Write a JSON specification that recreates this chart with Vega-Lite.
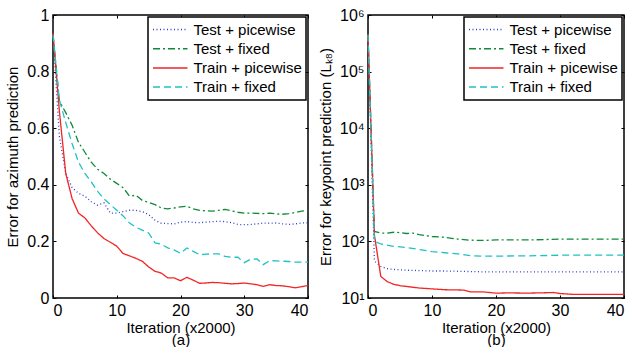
{
  "$schema": "https://vega.github.io/schema/vega-lite/v6.json",
  "padding": {"left": 5, "top": 6, "right": 5, "bottom": 0},
  "background": "white",
  "config": {
    "font": "Liberation Sans",
    "view": {"stroke": "black", "strokeWidth": 1.5},
    "axis": {"domain": false, "grid": false, "tickColor": "black", "tickSize": -3, "tickWidth": 1, "labelPadding": 7, "labelFontSize": 16, "labelColor": "black", "titleFontSize": 15, "titleFontWeight": "normal", "titleColor": "black", "labelFont": "Liberation Sans", "titleFont": "Liberation Sans"},
    "axisY": {"titlePadding": 6},
    "legend": {"orient": "top-right", "offset": 2, "strokeColor": "black", "strokeWidth": 1.5, "fillColor": "white", "padding": 4, "symbolType": "M-1,0H3.6", "symbolSize": 225, "symbolStrokeWidth": 1.5, "labelFontSize": 15, "labelColor": "black", "labelFont": "Liberation Sans", "rowPadding": 2.2, "labelOffset": 24.5, "labelLimit": 300}
  },
  "datasets": {
    "a": [
      {"s":"Test + picewise","x":0,"y":0.93},{"s":"Test + picewise","x":1,"y":0.57},{"s":"Test + picewise","x":2,"y":0.44},{"s":"Test + picewise","x":3,"y":0.39},{"s":"Test + picewise","x":4,"y":0.37},{"s":"Test + picewise","x":5,"y":0.36},{"s":"Test + picewise","x":6,"y":0.34},{"s":"Test + picewise","x":7,"y":0.328},{"s":"Test + picewise","x":8,"y":0.336},{"s":"Test + picewise","x":9,"y":0.3},{"s":"Test + picewise","x":10,"y":0.3},{"s":"Test + picewise","x":11,"y":0.305},{"s":"Test + picewise","x":12,"y":0.31},{"s":"Test + picewise","x":13,"y":0.31},{"s":"Test + picewise","x":14,"y":0.305},{"s":"Test + picewise","x":15,"y":0.295},{"s":"Test + picewise","x":16,"y":0.275},{"s":"Test + picewise","x":17,"y":0.264},{"s":"Test + picewise","x":18,"y":0.263},{"s":"Test + picewise","x":19,"y":0.262},{"s":"Test + picewise","x":20,"y":0.268},{"s":"Test + picewise","x":21,"y":0.27},{"s":"Test + picewise","x":22,"y":0.267},{"s":"Test + picewise","x":23,"y":0.266},{"s":"Test + picewise","x":24,"y":0.268},{"s":"Test + picewise","x":25,"y":0.27},{"s":"Test + picewise","x":26,"y":0.271},{"s":"Test + picewise","x":27,"y":0.27},{"s":"Test + picewise","x":28,"y":0.266},{"s":"Test + picewise","x":29,"y":0.26},{"s":"Test + picewise","x":30,"y":0.259},{"s":"Test + picewise","x":31,"y":0.26},{"s":"Test + picewise","x":32,"y":0.262},{"s":"Test + picewise","x":33,"y":0.265},{"s":"Test + picewise","x":34,"y":0.264},{"s":"Test + picewise","x":35,"y":0.265},{"s":"Test + picewise","x":36,"y":0.262},{"s":"Test + picewise","x":37,"y":0.26},{"s":"Test + picewise","x":38,"y":0.262},{"s":"Test + picewise","x":39,"y":0.265},{"s":"Test + picewise","x":40,"y":0.266},
      {"s":"Test + fixed","x":0,"y":0.93},{"s":"Test + fixed","x":1,"y":0.696},{"s":"Test + fixed","x":2,"y":0.655},{"s":"Test + fixed","x":3,"y":0.61},{"s":"Test + fixed","x":4,"y":0.55},{"s":"Test + fixed","x":5,"y":0.515},{"s":"Test + fixed","x":6,"y":0.48},{"s":"Test + fixed","x":7,"y":0.455},{"s":"Test + fixed","x":8,"y":0.44},{"s":"Test + fixed","x":9,"y":0.42},{"s":"Test + fixed","x":10,"y":0.405},{"s":"Test + fixed","x":11,"y":0.39},{"s":"Test + fixed","x":12,"y":0.36},{"s":"Test + fixed","x":13,"y":0.363},{"s":"Test + fixed","x":14,"y":0.345},{"s":"Test + fixed","x":15,"y":0.338},{"s":"Test + fixed","x":16,"y":0.33},{"s":"Test + fixed","x":17,"y":0.318},{"s":"Test + fixed","x":18,"y":0.315},{"s":"Test + fixed","x":19,"y":0.318},{"s":"Test + fixed","x":20,"y":0.322},{"s":"Test + fixed","x":21,"y":0.324},{"s":"Test + fixed","x":22,"y":0.315},{"s":"Test + fixed","x":23,"y":0.31},{"s":"Test + fixed","x":24,"y":0.308},{"s":"Test + fixed","x":25,"y":0.307},{"s":"Test + fixed","x":26,"y":0.31},{"s":"Test + fixed","x":27,"y":0.313},{"s":"Test + fixed","x":28,"y":0.308},{"s":"Test + fixed","x":29,"y":0.303},{"s":"Test + fixed","x":30,"y":0.3},{"s":"Test + fixed","x":31,"y":0.3},{"s":"Test + fixed","x":32,"y":0.299},{"s":"Test + fixed","x":33,"y":0.298},{"s":"Test + fixed","x":34,"y":0.3},{"s":"Test + fixed","x":35,"y":0.297},{"s":"Test + fixed","x":36,"y":0.296},{"s":"Test + fixed","x":37,"y":0.298},{"s":"Test + fixed","x":38,"y":0.302},{"s":"Test + fixed","x":39,"y":0.307},{"s":"Test + fixed","x":40,"y":0.309},
      {"s":"Train + picewise","x":0,"y":0.937},{"s":"Train + picewise","x":1,"y":0.66},{"s":"Train + picewise","x":2,"y":0.44},{"s":"Train + picewise","x":3,"y":0.351},{"s":"Train + picewise","x":4,"y":0.3},{"s":"Train + picewise","x":5,"y":0.283},{"s":"Train + picewise","x":6,"y":0.255},{"s":"Train + picewise","x":7,"y":0.23},{"s":"Train + picewise","x":8,"y":0.21},{"s":"Train + picewise","x":9,"y":0.197},{"s":"Train + picewise","x":10,"y":0.183},{"s":"Train + picewise","x":11,"y":0.157},{"s":"Train + picewise","x":12,"y":0.149},{"s":"Train + picewise","x":13,"y":0.14},{"s":"Train + picewise","x":14,"y":0.13},{"s":"Train + picewise","x":15,"y":0.11},{"s":"Train + picewise","x":16,"y":0.094},{"s":"Train + picewise","x":17,"y":0.088},{"s":"Train + picewise","x":18,"y":0.071},{"s":"Train + picewise","x":19,"y":0.071},{"s":"Train + picewise","x":20,"y":0.061},{"s":"Train + picewise","x":21,"y":0.073},{"s":"Train + picewise","x":22,"y":0.063},{"s":"Train + picewise","x":23,"y":0.052},{"s":"Train + picewise","x":24,"y":0.053},{"s":"Train + picewise","x":25,"y":0.055},{"s":"Train + picewise","x":26,"y":0.054},{"s":"Train + picewise","x":27,"y":0.052},{"s":"Train + picewise","x":28,"y":0.05},{"s":"Train + picewise","x":29,"y":0.051},{"s":"Train + picewise","x":30,"y":0.053},{"s":"Train + picewise","x":31,"y":0.05},{"s":"Train + picewise","x":32,"y":0.047},{"s":"Train + picewise","x":33,"y":0.041},{"s":"Train + picewise","x":34,"y":0.047},{"s":"Train + picewise","x":35,"y":0.044},{"s":"Train + picewise","x":36,"y":0.043},{"s":"Train + picewise","x":37,"y":0.04},{"s":"Train + picewise","x":38,"y":0.036},{"s":"Train + picewise","x":39,"y":0.04},{"s":"Train + picewise","x":40,"y":0.044},
      {"s":"Train + fixed","x":0,"y":0.93},{"s":"Train + fixed","x":1,"y":0.7},{"s":"Train + fixed","x":2,"y":0.62},{"s":"Train + fixed","x":3,"y":0.545},{"s":"Train + fixed","x":4,"y":0.48},{"s":"Train + fixed","x":5,"y":0.44},{"s":"Train + fixed","x":6,"y":0.41},{"s":"Train + fixed","x":7,"y":0.377},{"s":"Train + fixed","x":8,"y":0.35},{"s":"Train + fixed","x":9,"y":0.33},{"s":"Train + fixed","x":10,"y":0.31},{"s":"Train + fixed","x":11,"y":0.29},{"s":"Train + fixed","x":12,"y":0.265},{"s":"Train + fixed","x":13,"y":0.25},{"s":"Train + fixed","x":14,"y":0.24},{"s":"Train + fixed","x":15,"y":0.23},{"s":"Train + fixed","x":16,"y":0.195},{"s":"Train + fixed","x":17,"y":0.19},{"s":"Train + fixed","x":18,"y":0.177},{"s":"Train + fixed","x":19,"y":0.17},{"s":"Train + fixed","x":20,"y":0.158},{"s":"Train + fixed","x":21,"y":0.177},{"s":"Train + fixed","x":22,"y":0.165},{"s":"Train + fixed","x":23,"y":0.153},{"s":"Train + fixed","x":24,"y":0.155},{"s":"Train + fixed","x":25,"y":0.156},{"s":"Train + fixed","x":26,"y":0.156},{"s":"Train + fixed","x":27,"y":0.147},{"s":"Train + fixed","x":28,"y":0.144},{"s":"Train + fixed","x":29,"y":0.144},{"s":"Train + fixed","x":30,"y":0.125},{"s":"Train + fixed","x":31,"y":0.137},{"s":"Train + fixed","x":32,"y":0.138},{"s":"Train + fixed","x":33,"y":0.118},{"s":"Train + fixed","x":34,"y":0.132},{"s":"Train + fixed","x":35,"y":0.131},{"s":"Train + fixed","x":36,"y":0.13},{"s":"Train + fixed","x":37,"y":0.129},{"s":"Train + fixed","x":38,"y":0.127},{"s":"Train + fixed","x":39,"y":0.127},{"s":"Train + fixed","x":40,"y":0.127}
    ],
    "b": [
      {"s":"Test + picewise","x":0,"y":450000},{"s":"Test + picewise","x":1,"y":45},{"s":"Test + picewise","x":2,"y":36},{"s":"Test + picewise","x":3,"y":33},{"s":"Test + picewise","x":4,"y":32},{"s":"Test + picewise","x":5,"y":31.5},{"s":"Test + picewise","x":6,"y":31},{"s":"Test + picewise","x":8,"y":30.5},{"s":"Test + picewise","x":10,"y":30},{"s":"Test + picewise","x":12,"y":30},{"s":"Test + picewise","x":15,"y":29.5},{"s":"Test + picewise","x":18,"y":29},{"s":"Test + picewise","x":20,"y":29},{"s":"Test + picewise","x":25,"y":29},{"s":"Test + picewise","x":30,"y":29},{"s":"Test + picewise","x":35,"y":29},{"s":"Test + picewise","x":40,"y":29},
      {"s":"Test + fixed","x":0,"y":450000},{"s":"Test + fixed","x":1,"y":150},{"s":"Test + fixed","x":2,"y":140},{"s":"Test + fixed","x":3,"y":140},{"s":"Test + fixed","x":4,"y":145},{"s":"Test + fixed","x":5,"y":143},{"s":"Test + fixed","x":6,"y":138},{"s":"Test + fixed","x":7,"y":140},{"s":"Test + fixed","x":8,"y":132},{"s":"Test + fixed","x":10,"y":122},{"s":"Test + fixed","x":12,"y":118},{"s":"Test + fixed","x":14,"y":110},{"s":"Test + fixed","x":16,"y":105},{"s":"Test + fixed","x":18,"y":104},{"s":"Test + fixed","x":20,"y":106},{"s":"Test + fixed","x":25,"y":106},{"s":"Test + fixed","x":28,"y":108},{"s":"Test + fixed","x":30,"y":110},{"s":"Test + fixed","x":35,"y":110},{"s":"Test + fixed","x":40,"y":110},
      {"s":"Train + picewise","x":0,"y":450000},{"s":"Train + picewise","x":1,"y":130},{"s":"Train + picewise","x":2,"y":24},{"s":"Train + picewise","x":3,"y":19.5},{"s":"Train + picewise","x":4,"y":17.5},{"s":"Train + picewise","x":5,"y":16.5},{"s":"Train + picewise","x":6,"y":16},{"s":"Train + picewise","x":8,"y":15},{"s":"Train + picewise","x":10,"y":14.5},{"s":"Train + picewise","x":12,"y":14},{"s":"Train + picewise","x":15,"y":13.8},{"s":"Train + picewise","x":16,"y":12.8},{"s":"Train + picewise","x":18,"y":12.8},{"s":"Train + picewise","x":20,"y":12.2},{"s":"Train + picewise","x":22,"y":12.3},{"s":"Train + picewise","x":25,"y":12.2},{"s":"Train + picewise","x":28,"y":12.4},{"s":"Train + picewise","x":29,"y":12.5},{"s":"Train + picewise","x":30,"y":12},{"s":"Train + picewise","x":32,"y":11.6},{"s":"Train + picewise","x":35,"y":11.6},{"s":"Train + picewise","x":40,"y":11.6},
      {"s":"Train + fixed","x":0,"y":450000},{"s":"Train + fixed","x":1,"y":100},{"s":"Train + fixed","x":2,"y":90},{"s":"Train + fixed","x":4,"y":82},{"s":"Train + fixed","x":6,"y":78},{"s":"Train + fixed","x":8,"y":72},{"s":"Train + fixed","x":10,"y":66},{"s":"Train + fixed","x":12,"y":63},{"s":"Train + fixed","x":14,"y":60},{"s":"Train + fixed","x":16,"y":56},{"s":"Train + fixed","x":18,"y":55},{"s":"Train + fixed","x":20,"y":55},{"s":"Train + fixed","x":25,"y":55.5},{"s":"Train + fixed","x":30,"y":57},{"s":"Train + fixed","x":35,"y":57},{"s":"Train + fixed","x":40,"y":57}
    ]
  },
  "spacing": 60,
  "bounds": "flush",
  "resolve": {"scale": {"color": "independent", "strokeDash": "independent"}},
  "hconcat": [
    {
      "width": 255, "height": 283,
      "data": {"name": "a"},
      "resolve": {"axis": {"x": "independent", "y": "independent"}},
      "layer": [
        {
          "mark": {"type": "line", "strokeWidth": 1.3},
          "encoding": {
            "x": {"field": "x", "type": "quantitative", "scale": {"domain": [0, 40], "nice": false}, "axis": {"values": [0, 10, 20, 30, 40], "title": ["Iteration (x2000)", "(a)"], "titleLineHeight": 12, "titlePadding": 2}},
            "y": {"field": "y", "type": "quantitative", "scale": {"domain": [0, 1], "nice": false}, "axis": {"values": [0, 0.2, 0.4, 0.6, 0.8, 1], "format": "~g", "title": "Error for azimuth prediction"}},
            "color": {"field": "s", "type": "nominal", "scale": {"domain": ["Test + picewise", "Test + fixed", "Train + picewise", "Train + fixed"], "range": ["#2a3fd0", "#0f8a3a", "#f02525", "#1fc2c2"]}, "legend": {"title": null}},
            "strokeDash": {"field": "s", "type": "nominal", "scale": {"domain": ["Test + picewise", "Test + fixed", "Train + picewise", "Train + fixed"], "range": [[1, 2.5], [7, 3, 2, 3], [1, 0], [7, 4]]}, "legend": {"title": null}}
          }
        },
        {
          "mark": {"type": "line", "strokeOpacity": 0},
          "encoding": {
            "x": {"field": "x", "type": "quantitative", "axis": {"orient": "top", "values": [0, 10, 20, 30, 40], "labels": false, "title": null}},
            "y": {"field": "y", "type": "quantitative", "axis": {"orient": "right", "values": [0, 0.2, 0.4, 0.6, 0.8, 1], "labels": false, "title": null}},
            "detail": {"field": "s"}
          }
        }
      ]
    },
    {
      "width": 256, "height": 283,
      "data": {"name": "b"},
      "resolve": {"axis": {"x": "independent", "y": "independent"}},
      "layer": [
        {
          "mark": {"type": "line", "strokeWidth": 1.3},
          "encoding": {
            "x": {"field": "x", "type": "quantitative", "scale": {"domain": [0, 40], "nice": false}, "axis": {"values": [0, 10, 20, 30, 40], "title": ["Iteration (x2000)", "(b)"], "titleLineHeight": 12, "titlePadding": 2}},
            "y": {"field": "y", "type": "quantitative", "scale": {"type": "log", "domain": [10, 1000000], "nice": false}, "axis": {"values": [10, 100, 1000, 10000, 100000, 1000000], "labelExpr": "'10' + ['⁰','¹','²','³','⁴','⁵','⁶'][round(log(datum.value)/LN10)]", "title": "Error for keypoint prediction (Lₖ₈)"}},
            "color": {"field": "s", "type": "nominal", "scale": {"domain": ["Test + picewise", "Test + fixed", "Train + picewise", "Train + fixed"], "range": ["#2a3fd0", "#0f8a3a", "#f02525", "#1fc2c2"]}, "legend": {"title": null}},
            "strokeDash": {"field": "s", "type": "nominal", "scale": {"domain": ["Test + picewise", "Test + fixed", "Train + picewise", "Train + fixed"], "range": [[1, 2.5], [7, 3, 2, 3], [1, 0], [7, 4]]}, "legend": {"title": null}}
          }
        },
        {
          "mark": {"type": "line", "strokeOpacity": 0},
          "encoding": {
            "x": {"field": "x", "type": "quantitative", "axis": {"orient": "top", "values": [0, 10, 20, 30, 40], "labels": false, "title": null}},
            "y": {"field": "y", "type": "quantitative", "axis": {"orient": "right", "values": [10, 100, 1000, 10000, 100000, 1000000], "labels": false, "title": null}},
            "detail": {"field": "s"}
          }
        }
      ]
    }
  ]
}
